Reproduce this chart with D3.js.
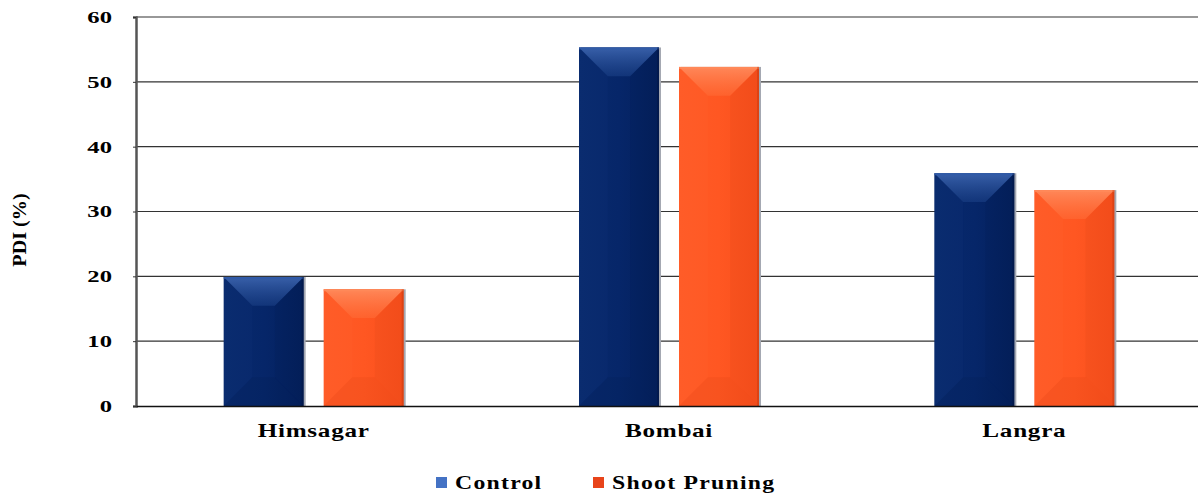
<!DOCTYPE html>
<html><head><meta charset="utf-8">
<script src="https://cdn.jsdelivr.net/npm/d3@7"></script>
<style>body{margin:0;background:#fff;}svg{display:block;}</style>
</head><body>
<svg id="c" width="1198" height="494"></svg>
<script>
const categories = ["Himsagar", "Bombai", "Langra"];
const seriesNames = ["Control", "Shoot Pruning"];
const control = [19.9, 55.3, 35.9];
const shootPruning = [18.0, 52.3, 33.3];
const yTicks = [0, 10, 20, 30, 40, 50, 60];

const FONT = "Liberation Serif, Times New Roman, serif";
const svg = d3.select("#c");
const W = 1198, H = 494;
const m = {left: 136, right: -4, top: 17, bottom: 88};
const x0 = d3.scaleBand().domain(categories).range([m.left, W - m.right]).padding(0);
const groupW = 180;
const x1 = d3.scaleBand().domain(seriesNames).range([0, groupW]).paddingInner(0.2).paddingOuter(0);
const y = d3.scaleLinear().domain([0, 60]).range([H - m.bottom, m.top]);

const defs = svg.append("defs");
function mkGrad(id, stops, horiz) {
  const g = defs.append("linearGradient").attr("id", id)
    .attr("x1", 0).attr("y1", 0).attr("x2", horiz ? 1 : 0).attr("y2", horiz ? 0 : 1);
  stops.forEach(s => g.append("stop").attr("offset", s[0]).attr("stop-color", s[1]).attr("stop-opacity", s[2] == null ? 1 : s[2]));
}
mkGrad("gNavy", [[0, "#082a6c"], [0.5, "#062669"], [1, "#04205c"]], true);
mkGrad("gOrange", [[0, "#ff5a26"], [0.5, "#ff5722"], [1, "#f84f1c"]], true);
mkGrad("tNavy", [[0, "#3b63ad", 0.95], [1, "#1a3f85", 0.6]], false);
mkGrad("tOrange", [[0, "#ff8a5c", 0.95], [1, "#ff6a35", 0.6]], false);

// gridlines
svg.append("g").selectAll("line").data(yTicks.filter(d => d > 0)).join("line")
  .attr("x1", m.left).attr("x2", W).attr("y1", d => y(d)).attr("y2", d => y(d))
  .attr("stroke", "#333").attr("stroke-width", 1.2);

// y axis
const yAxis = d3.axisLeft(y).tickValues(yTicks).tickSize(3).tickFormat(d3.format("d"));
const ya = svg.append("g").attr("transform", `translate(${m.left},0)`).call(yAxis);
ya.select(".domain").attr("stroke", "#555").attr("stroke-width", 2.5);
ya.selectAll(".tick line").attr("stroke", "#333");
ya.selectAll(".tick text").attr("x", 0).attr("transform", "translate(-24,0) scale(1.45,1)")
  .attr("font-family", FONT).attr("font-weight", "bold").attr("font-size", 17).attr("fill", "#000");

const series = [
  {name: "Control", values: control, fill: "url(#gNavy)", top: "url(#tNavy)", light: "#2f5aa8", dark: "#021238"},
  {name: "Shoot Pruning", values: shootPruning, fill: "url(#gOrange)", top: "url(#tOrange)", light: "#ff8a5a", dark: "#b83208"}
];

const gBars = svg.append("g");
series.forEach(s => {
  categories.forEach((c, i) => {
    const v = s.values[i];
    const bx = x0(c) + (x0.bandwidth() - groupW) / 2 + x1(s.name);
    const bw = x1.bandwidth();
    const by = y(v), bh = y(0) - y(v);
    const g = gBars.append("g");
    g.append("rect").attr("x", bx + 2).attr("y", by).attr("width", bw).attr("height", bh)
      .attr("fill", "#a4a8b2");
    g.append("rect").attr("x", bx).attr("y", by).attr("width", bw).attr("height", bh)
      .attr("fill", s.fill);
    const bev = Math.min(bw * 0.36, bh * 0.4);
    g.append("path").attr("d", `M${bx},${by}L${bx + bw},${by}L${bx + bw - bev},${by + bev}L${bx + bev},${by + bev}Z`)
      .attr("fill", s.top);
    g.append("rect").attr("x", bx).attr("y", by).attr("width", bw).attr("height", 2)
      .attr("fill", s.light).attr("opacity", 0.8);
    g.append("path").attr("d", `M${bx},${by + bh}L${bx + bw},${by + bh}L${bx + bw - bev},${by + bh - bev}L${bx + bev},${by + bh - bev}Z`)
      .attr("fill", s.dark).attr("opacity", 0.1);
    g.append("path").attr("d", `M${bx + bw},${by}L${bx + bw},${by + bh}L${bx + bw - bev},${by + bh - bev}L${bx + bw - bev},${by + bev}Z`)
      .attr("fill", s.dark).attr("opacity", 0.08);
    g.append("rect").attr("x", bx + bw - 2).attr("y", by).attr("width", 2).attr("height", bh)
      .attr("fill", s.dark).attr("opacity", 0.35);
    g.append("path").attr("d", `M${bx},${by}L${bx},${by + bh}L${bx + bev},${by + bh - bev}L${bx + bev},${by + bev}Z`)
      .attr("fill", s.light).attr("opacity", 0.06);
  });
});

// x axis
const xAxis = d3.axisBottom(x0).tickSize(0).tickPadding(18);
const xa = svg.append("g").attr("transform", `translate(0,${y(0)})`).call(xAxis);
xa.select(".domain").attr("stroke", "#111").attr("stroke-width", 1.5);
xa.selectAll(".tick text").attr("transform", "scale(1.4,1)")
  .attr("font-family", FONT).attr("font-weight", "bold").attr("font-size", 18)
  .attr("letter-spacing", 0.5).attr("fill", "#000");

// y title
svg.append("text").attr("transform", `translate(26,230) rotate(-90) scale(1.12,1)`).attr("text-anchor", "middle")
  .attr("font-family", FONT).attr("font-weight", "bold")
  .attr("font-size", 18).text("PDI (%)");

// legend
const legendItems = [
  {name: seriesNames[0], color: "#4472c4", x: 436},
  {name: seriesNames[1], color: "#e8441a", x: 593}
];
const lg = svg.append("g");
legendItems.forEach(d => {
  lg.append("rect").attr("x", d.x).attr("y", 477).attr("width", 11).attr("height", 11).attr("fill", d.color);
  lg.append("text").attr("transform", `translate(${d.x + 19},489) scale(1.25,1)`)
    .attr("font-family", FONT).attr("font-weight", "bold")
    .attr("font-size", 19).attr("letter-spacing", 1).text(d.name);
});
</script>
</body></html>
